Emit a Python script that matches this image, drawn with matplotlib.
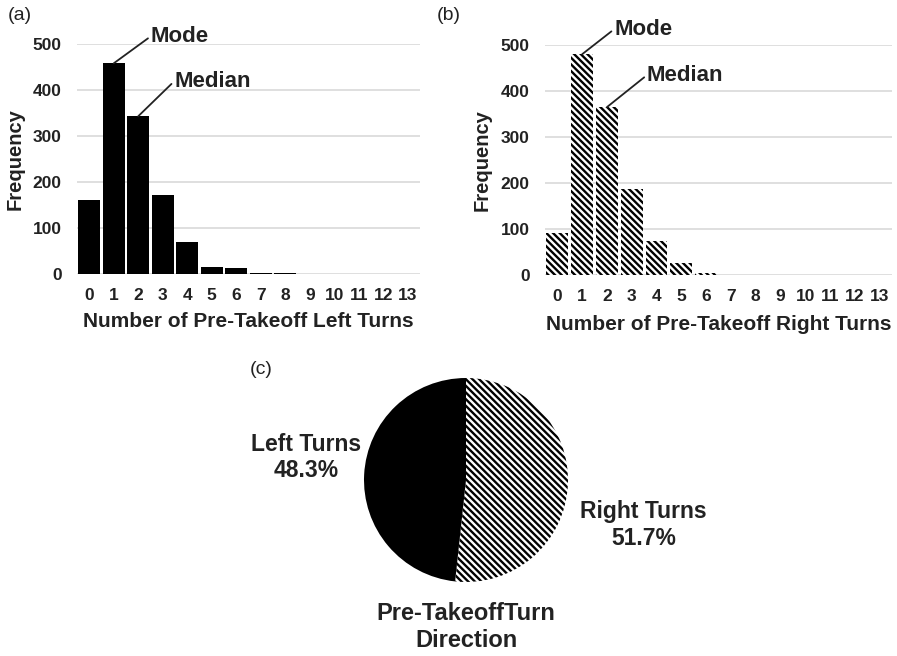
import numpy as np
import matplotlib
matplotlib.use("Agg")
import matplotlib.pyplot as plt

plt.rcParams['font.family'] = ['Liberation Sans', 'DejaVu Sans']
plt.rcParams['hatch.linewidth'] = 1.7

# Turn counts (0..13) and how often each occurred
turns = list(range(14))
left_freq = [161, 458, 343, 171, 69, 16, 12, 3, 2, 0, 0, 0, 0, 0]
right_freq = [91, 480, 365, 188, 75, 27, 4, 1, 0, 0, 0, 0, 0, 0]

# Share of turn directions
direction_labels = ["Right Turns", "Left Turns"]
direction_pct = [51.7, 48.3]

TXT = "#222222"
GRID = "#d9d9d9"
HATCH = "\\" * 5

fig = plt.figure(figsize=(8.97, 6.56), dpi=100)

W, H = 897.0, 656.0


def px_axes(x0, y0, x1, y1):
    # axes from pixel box (top-left origin)
    return fig.add_axes([x0 / W, 1 - y1 / H, (x1 - x0) / W, (y1 - y0) / H])


def style_hist(ax, xlabel):
    ax.set_xlim(-0.5, 13.5)
    ax.set_ylim(0, 500)
    ax.set_yticks([0, 100, 200, 300, 400, 500])
    ax.set_xticks(turns)
    ax.set_xticklabels([str(t) for t in turns])
    ax.grid(axis="y", color=GRID, lw=1.2)
    ax.set_axisbelow(True)
    for s in ax.spines.values():
        s.set_visible(False)
    ax.tick_params(axis="both", length=0, labelsize=12.5, labelcolor=TXT)
    ax.tick_params(axis="y", pad=11)
    ax.tick_params(axis="x", pad=10)
    for lab in ax.get_xticklabels() + ax.get_yticklabels():
        lab.set_fontweight("bold")
    ax.set_ylabel("Frequency", fontsize=14.5, fontweight="bold", color=TXT, va="center")
    ax.yaxis.set_label_coords(-0.18, 0.5)
    ax.set_xlabel(xlabel, fontsize=15, fontweight="bold", color=TXT, va="baseline")


def callout(ax, text, x, y, dx, dy):
    ax.annotate(text, xy=(x, y), xytext=(dx, dy), textcoords="offset pixels",
                ha="left", va="center", fontsize=16, fontweight="bold", color=TXT,
                annotation_clip=False,
                arrowprops=dict(arrowstyle="-", color=TXT, lw=1.3,
                                shrinkA=0, shrinkB=0, relpos=(0, 0.5)))


# (a) left turns
ax_a = px_axes(77, 44, 420, 274)
ax_a.bar(turns, left_freq, width=0.88, color="black", edgecolor="none")
style_hist(ax_a, "Number of Pre-Takeoff Left Turns")
ax_a.xaxis.set_label_coords(0.5, -0.232)
callout(ax_a, "Mode", 1, left_freq[1], 37, 27)
callout(ax_a, "Median", 2, left_freq[2], 36, 35)
fig.text(8 / W, 1 - 15 / H, "(a)", fontsize=14, color=TXT, va="center", ha="left")

# (b) right turns, diagonal hatching
ax_b = px_axes(545, 45, 892, 275)
ax_b.bar(turns, right_freq, width=0.88, color="white", edgecolor="black",
         linewidth=0, hatch=HATCH)
style_hist(ax_b, "Number of Pre-Takeoff Right Turns")
ax_b.xaxis.set_label_coords(0.5, -0.24)
callout(ax_b, "Mode", 1, right_freq[1], 32, 25)
callout(ax_b, "Median", 2, right_freq[2], 40, 32)
fig.text(437 / W, 1 - 15 / H, "(b)", fontsize=14, color=TXT, va="center", ha="left")

# (c) direction pie
ax_c = px_axes(364, 378, 568, 582)
wedges, _ = ax_c.pie(direction_pct, startangle=90, counterclock=False,
                     radius=1.0, colors=["white", "black"],
                     wedgeprops=dict(linewidth=0, edgecolor="black"))
wedges[0].set_hatch(HATCH)
ax_c.set_xlim(-1, 1)
ax_c.set_ylim(-1, 1)
ax_c.set_aspect("equal")
ax_c.axis("off")

ax_c.text(1.74, -0.44, f"{direction_labels[0]}\n{direction_pct[0]:.1f}%",
          ha="center", va="center", fontsize=16.5, fontweight="bold",
          color=TXT, linespacing=1.2)
ax_c.text(-1.57, 0.22, f"{direction_labels[1]}\n{direction_pct[1]:.1f}%",
          ha="center", va="center", fontsize=16.5, fontweight="bold",
          color=TXT, linespacing=1.2)
ax_c.text(0.0, -1.44, "Pre-TakeoffTurn\nDirection", ha="center", va="center",
          fontsize=17, fontweight="bold", color=TXT, linespacing=1.2)
fig.text(250 / W, 1 - 369 / H, "(c)", fontsize=14, color=TXT, va="center", ha="left")

fig.savefig("out.png", dpi=100)
